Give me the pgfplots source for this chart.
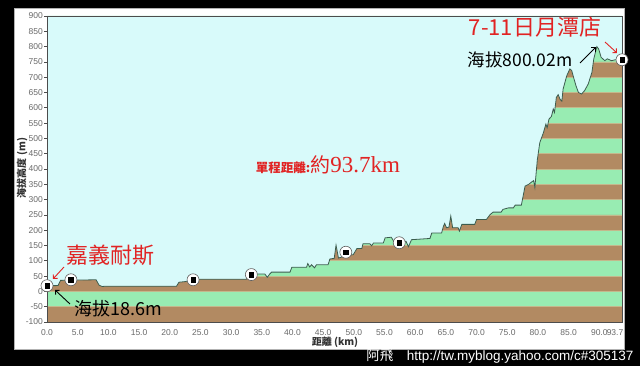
\documentclass[border=0pt]{standalone}
\usepackage{pgfplots}
\usepackage{pgfplotstable}
\pgfplotsset{compat=1.18}
\usetikzlibrary{arrows.meta}
\usepackage{fontspec}
\setmainfont{Liberation Sans}
\newfontfamily\cjk{Noto Sans CJK TC}
\newfontfamily\tms{Liberation Serif}
\definecolor{bgcyan}{RGB}{216,250,250}
\definecolor{bandbrown}{RGB}{178,138,98}
\definecolor{bandgreen}{RGB}{152,236,178}
\definecolor{bandline}{RGB}{196,184,140}
\definecolor{profline}{RGB}{60,92,78}
\definecolor{annred}{RGB}{225,35,35}
\definecolor{ticklab}{RGB}{105,105,105}

\pgfplotstableread{
x y
0 18.6
1.8 19
2.2 36
8.0 38
8.5 20
9.0 16
9.6 17
21.1 17
21.5 30
22.5 32
23.8 38
25.0 40
32.5 40
32.9 57
35.5 57
35.9 46
36.3 57
36.6 63
39.6 63
39.9 79
42.3 79
42.5 91
42.8 80
43.1 87
43.6 77
43.9 87
45.8 87
46.1 106
46.8 108
47.1 151
47.5 109
48.0 112
49.0 118
49.9 120
50.5 140
51.3 140
51.5 156
52.6 156
52.9 149
53.2 158
54.8 158
55.1 175
56.1 177
56.5 164
57.4 160
58.5 164
58.9 146
59.4 169
62.4 173
62.7 191
64.3 191
64.6 213
64.8 222
65.1 208
65.5 210
65.8 246
66.1 208
67.0 208
67.2 197
67.6 219
69.7 219
70.0 235
71.6 235
72.2 251
72.7 259
74.0 259
74.3 268
75.2 273
76.0 273
76.3 282
77.3 282
77.9 344
78.5 350
79.0 358
79.3 362
79.5 340
79.9 430
80.3 486
80.9 519
81.3 547
81.5 535
81.8 563
82.2 572
82.5 596
82.7 585
83.0 634
83.3 643
83.6 628
83.9 622
84.1 661
84.7 705
85.2 727
85.5 722
85.8 700
86.2 672
86.6 650
87.1 645
87.6 656
88.2 678
88.8 716
89.1 760
89.6 800
89.9 792
90.3 765
90.9 754
91.3 760
92.0 754
92.6 757
93.4 757
93.7 755
}\profile

\begin{document}
\begin{tikzpicture}[x=1pt,y=1pt]
\fill[black] (0,0) rectangle (640,366);
\fill[white] (14,16) rectangle (625,358);
\draw[gray!60, line width=0.6pt] (14.3,16.3) rectangle (624.7,357.7);
\begin{axis}[
  at={(47pt,44pt)}, anchor=south west,
  scale only axis, width=575pt, height=306pt,
  xmin=0, xmax=93.7, ymin=-100, ymax=900,
  clip=false,
  axis line style={draw=gray!60!black, line width=0.6pt},
  xtick={0,5,10,15,20,25,30,35,40,45,50,55,60,65,70,75,80,85,90},
  xticklabels={0.0,5.0,10.0,15.0,20.0,25.0,30.0,35.0,40.0,45.0,50.0,55.0,60.0,65.0,70.0,75.0,80.0,85.0,90.0},
  extra x ticks={93.7},
  extra x tick labels={93.7},
  extra x tick style={xticklabel style={anchor=north east, xshift=2.5pt}},
  ytick={-100,-50,0,50,100,150,200,250,300,350,400,450,500,550,600,650,700,750,800,850,900},
  xtick style={draw=none},
  ytick style={draw=gray!60!black, line width=0.6pt},
  major tick length=3pt,
  tick align=outside,
  xtick pos=bottom, ytick pos=left,
  /pgf/number format/assume math mode=true,
  ticklabel style={font=\fontsize{8.5}{10}\selectfont, text=ticklab},
  yticklabel style={inner sep=1pt},
  xticklabel style={inner sep=1pt, yshift=-3pt},
  axis on top,
]
% stripes
\addplot[fill=bandgreen, draw=none] coordinates {(0,-100)(93.7,-100)(93.7,900)(0,900)(0,-100)};
\addplot[fill=bandbrown, draw=bandline, line width=0.6pt] coordinates {(0,-100)(93.7,-100)(93.7,-50)(0,-50)(0,-100)};
\addplot[fill=bandbrown, draw=bandline, line width=0.6pt] coordinates {(0,0)(93.7,0)(93.7,50)(0,50)(0,0)};
\addplot[fill=bandbrown, draw=bandline, line width=0.6pt] coordinates {(0,100)(93.7,100)(93.7,150)(0,150)(0,100)};
\addplot[fill=bandbrown, draw=bandline, line width=0.6pt] coordinates {(0,200)(93.7,200)(93.7,250)(0,250)(0,200)};
\addplot[fill=bandbrown, draw=bandline, line width=0.6pt] coordinates {(0,300)(93.7,300)(93.7,350)(0,350)(0,300)};
\addplot[fill=bandbrown, draw=bandline, line width=0.6pt] coordinates {(0,400)(93.7,400)(93.7,450)(0,450)(0,400)};
\addplot[fill=bandbrown, draw=bandline, line width=0.6pt] coordinates {(0,500)(93.7,500)(93.7,550)(0,550)(0,500)};
\addplot[fill=bandbrown, draw=bandline, line width=0.6pt] coordinates {(0,600)(93.7,600)(93.7,650)(0,650)(0,600)};
\addplot[fill=bandbrown, draw=bandline, line width=0.6pt] coordinates {(0,700)(93.7,700)(93.7,750)(0,750)(0,700)};
\addplot[fill=bandbrown, draw=bandline, line width=0.6pt] coordinates {(0,800)(93.7,800)(93.7,850)(0,850)(0,800)};
% sky above the profile
\addplot[fill=bgcyan, draw=none] table[x=x,y=y] {\profile} -- (axis cs:93.7,900) -- (axis cs:0,900) -- cycle;
% profile
\addplot[profline, line width=0.8pt] table[x=x,y=y] {\profile};
% markers
\addplot[only marks, mark=*, mark size=6pt, mark options={fill=white, draw=gray!75!black, line width=0.6pt}]
  coordinates {(0,18.6)(3.9,38)(23.8,38)(33.3,55)(48.7,128)(57.4,159)(93.7,757)};
\addplot[only marks, mark=square*, mark size=2.3pt, mark options={fill=black, draw=black}]
  coordinates {(0,18.6)(3.9,38)(23.8,38)(33.3,55)(48.7,128)(57.4,159)(93.7,757)};
\end{axis}
% axis titles
\node[rotate=90, font=\cjk\fontsize{10}{12}\selectfont\bfseries, text=black!80] at (22,198) {海拔高度 (m)};
\node[font=\cjk\fontsize{10}{12}\selectfont\bfseries, text=black!80] at (335,24) {距離 (km)};
% annotations
\node[font=\cjk\fontsize{22}{24}\selectfont, text=annred] at (110,111) {嘉義耐斯};
\draw[annred, line width=0.9pt, -{Straight Barb[length=3pt]}] (64,99) -- (53,87);
\node[font=\cjk\fontsize{18}{20}\selectfont, text=black] at (118,57) {海拔18.6m};
\draw[black, line width=0.9pt, -{Straight Barb[length=3pt]}] (70,62) -- (55,76);
\node[font=\cjk\fontsize{22}{24}\selectfont, text=annred] at (535,339) {7-11日月潭店};
\draw[annred, line width=0.9pt, -{Straight Barb[length=3pt]}] (605,324) -- (617,313);
\node[font=\cjk\fontsize{17.5}{19}\selectfont, text=black] at (520,306) {海拔800.02m};
\draw[black, line width=0.9pt, -{Straight Barb[length=3pt]}] (580,303) -- (596,319);
\node[text=annred, anchor=base] at (328,193) {{\cjk\fontsize{12.5}{14}\selectfont\bfseries 單程距離:}{\cjk\fontsize{20}{22}\selectfont 約}{\tms\fontsize{23}{25}\selectfont 93.7km}};
% footer
\node[anchor=east, text=white, font=\fontsize{13.5}{15}\selectfont] at (637,9) {{\cjk 阿飛}\quad http://tw.myblog.yahoo.com/c\#305137};
\pgfresetboundingbox
\path (0,0) rectangle (640,366);
\end{tikzpicture}
\end{document}
